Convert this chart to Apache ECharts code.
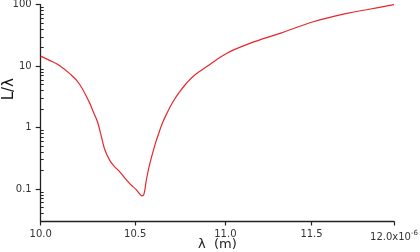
<!DOCTYPE html>
<html>
<head>
<meta charset="utf-8">
<script src="https://cdn.jsdelivr.net/npm/echarts@6/dist/echarts.min.js"></script>
<style>html,body{margin:0;padding:0;background:#fff}#c{width:420px;height:252px}</style>
</head>
<body>
<div id="c"></div>
<script>
// wavelength in units of 1e-6 m
const lambda = [10.000,10.043,10.095,10.148,10.200,10.253,10.276,10.298,10.316,10.333,10.349,10.366,10.387,10.414,10.450,10.474,10.504,10.522,10.536,10.547,10.559,10.577,10.605,10.632,10.650,10.676,10.705,10.742,10.780,10.826,10.893,11.006,11.140,11.315,11.511,11.713,11.855,12.000];
const ratio  = [14.56,12.53,10.38,7.69,5.22,2.62,1.777,1.22,0.76,0.470,0.353,0.282,0.2337,0.1937,0.1434,0.1189,0.0985,0.0848,0.0772,0.0817,0.133,0.2427,0.4955,0.870,1.220,1.777,2.587,3.766,5.22,7.13,9.74,16.11,23.46,34.15,52.8,72.4,85.1,100];
const xTicks = [10.0,10.5,11.0,11.5,12.0];
const yTicks = [0.1,1,10,100];
const yMinorTicks = [0.03,0.04,0.05,0.06,0.07,0.08,0.09,0.2,0.3,0.4,0.5,0.6,0.7,0.8,0.9,2,3,4,5,6,7,8,9,20,30,40,50,60,70,80,90];

const chart = echarts.init(document.getElementById('c'), null, {renderer:'canvas'});
const axisColor = '#222';
const font = 'DejaVu Sans';
chart.setOption({
  animation:false,
  backgroundColor:'#fff',
  grid:{left:40.7,right:26,top:4.7,bottom:30.5,containLabel:false,outerBoundsMode:'none'},
  xAxis:{
    type:'log', logBase:10, min:10, max:12,
    axisLine:{lineStyle:{color:axisColor,width:1.3}},
    axisTick:{show:true,inside:false,length:4,customValues:xTicks,lineStyle:{color:axisColor,width:1.2}},
    axisLabel:{customValues:xTicks,margin:8,fontFamily:font,fontSize:10,color:'#333',
      formatter:function(v){const r=Math.round(v*10)/10; return r===12?'12.0x10{s|-6}':r.toFixed(1);},
      rich:{s:{fontFamily:font,fontSize:7,color:'#333',verticalAlign:'top',padding:[0,0,8,0]}}},
    splitLine:{show:false},minorTick:{show:false}
  },
  yAxis:[{
    type:'log', logBase:10, min:0.0296, max:100,
    axisLine:{lineStyle:{color:axisColor,width:1.3}},
    axisTick:{show:true,inside:false,length:5,customValues:yTicks,lineStyle:{color:axisColor,width:1.2}},
    axisLabel:{customValues:yTicks,margin:9,fontFamily:font,fontSize:10,color:'#333',
      formatter:function(v){return String(parseFloat(v.toPrecision(3)));}},
    splitLine:{show:false}
  },{
    type:'log', logBase:10, min:0.0296, max:100, position:'left',
    axisLine:{show:false},
    axisTick:{show:true,inside:true,length:3,customValues:yMinorTicks,lineStyle:{color:axisColor,width:1}},
    axisLabel:{show:false},
    splitLine:{show:false}
  }],
  graphic:[
    {type:'text',left:2,top:78,rotation:Math.PI/2,
      style:{text:'L/λ',font:'15px "DejaVu Sans"',fill:'#111'}},
    {type:'text',left:198,top:238,
      style:{text:'λ  (m)',font:'13px "DejaVu Sans"',fill:'#222'}}
  ],
  series:[{
    type:'line', data:lambda.map((x,i)=>[x,ratio[i]]), showSymbol:false, smooth:0.4,
    lineStyle:{color:'#e8262a',width:1.2}, itemStyle:{color:'#e8262a'}
  }]
});
</script>
</body>
</html>
